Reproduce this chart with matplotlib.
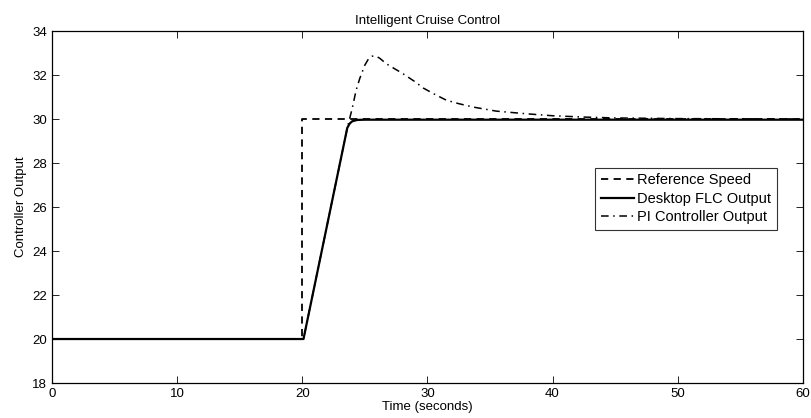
import matplotlib
matplotlib.use("Agg")
import matplotlib.pyplot as plt

plt.rcParams['font.family'] = ['Liberation Sans', 'DejaVu Sans']

# Reference speed
ref_t = [0, 20, 20, 60]
ref_v = [20, 20, 30, 30]

# Desktop FLC output
flc_t = [0, 20.1, 23.6, 23.8, 24.0, 24.4, 25.0, 30, 60]
flc_v = [20, 20, 29.6, 29.8, 29.9, 29.96, 29.97, 29.97, 29.97]

# PI controller output
pi_t = [0, 20.1, 23.6, 24.0, 24.3, 24.6, 25.0, 25.3, 25.6, 25.9, 26.2, 26.7, 27.4,
        28.0, 29.0, 29.7, 30.5, 31.5, 32.5, 33.7, 35.5, 37.9, 40, 42.5, 45, 50, 55, 60]
pi_v = [20, 20, 29.6, 30.5, 31.3, 31.85, 32.45, 32.74, 32.86, 32.86, 32.76, 32.52, 32.28,
        32.08, 31.7, 31.4, 31.15, 30.86, 30.7, 30.54, 30.36, 30.24, 30.15, 30.09, 30.05, 30.02, 30.01, 30.0]

fig = plt.figure(figsize=(8.11, 4.18), dpi=100)
ax = fig.add_axes([0.064, 0.0837, 0.926, 0.842])

ax.plot(ref_t, ref_v, 'k--', lw=1.3, label='Reference Speed', dashes=(4, 3))
ax.plot(flc_t, flc_v, 'k-', lw=1.6, label='Desktop FLC Output')
ax.plot(pi_t, pi_v, 'k-.', lw=1.1, label='PI Controller Output', dashes=(5, 3, 1, 3))

ax.set_xlim(0, 60)
ax.set_ylim(18, 34)
ax.set_xticks(range(0, 61, 10))
ax.set_yticks(range(18, 35, 2))
ax.tick_params(direction='in', top=True, right=True, labelsize=9.5, length=5, width=0.6)
for s in ax.spines.values():
    s.set_linewidth(0.9)

ax.set_title('Intelligent Cruise Control', fontsize=9.5, pad=5)
ax.set_xlabel('Time (seconds)', fontsize=9.5, labelpad=1)
ax.set_ylabel('Controller Output', fontsize=9.5, labelpad=4)

leg = ax.legend(loc='upper left', bbox_to_anchor=(0.723, 0.612), fontsize=10.5,
                frameon=True, fancybox=False, edgecolor='black', handlelength=2.3,
                handletextpad=0.2, borderpad=0.4, labelspacing=0.3, borderaxespad=0)
leg.get_frame().set_linewidth(0.8)

fig.savefig('out.png', dpi=100)
